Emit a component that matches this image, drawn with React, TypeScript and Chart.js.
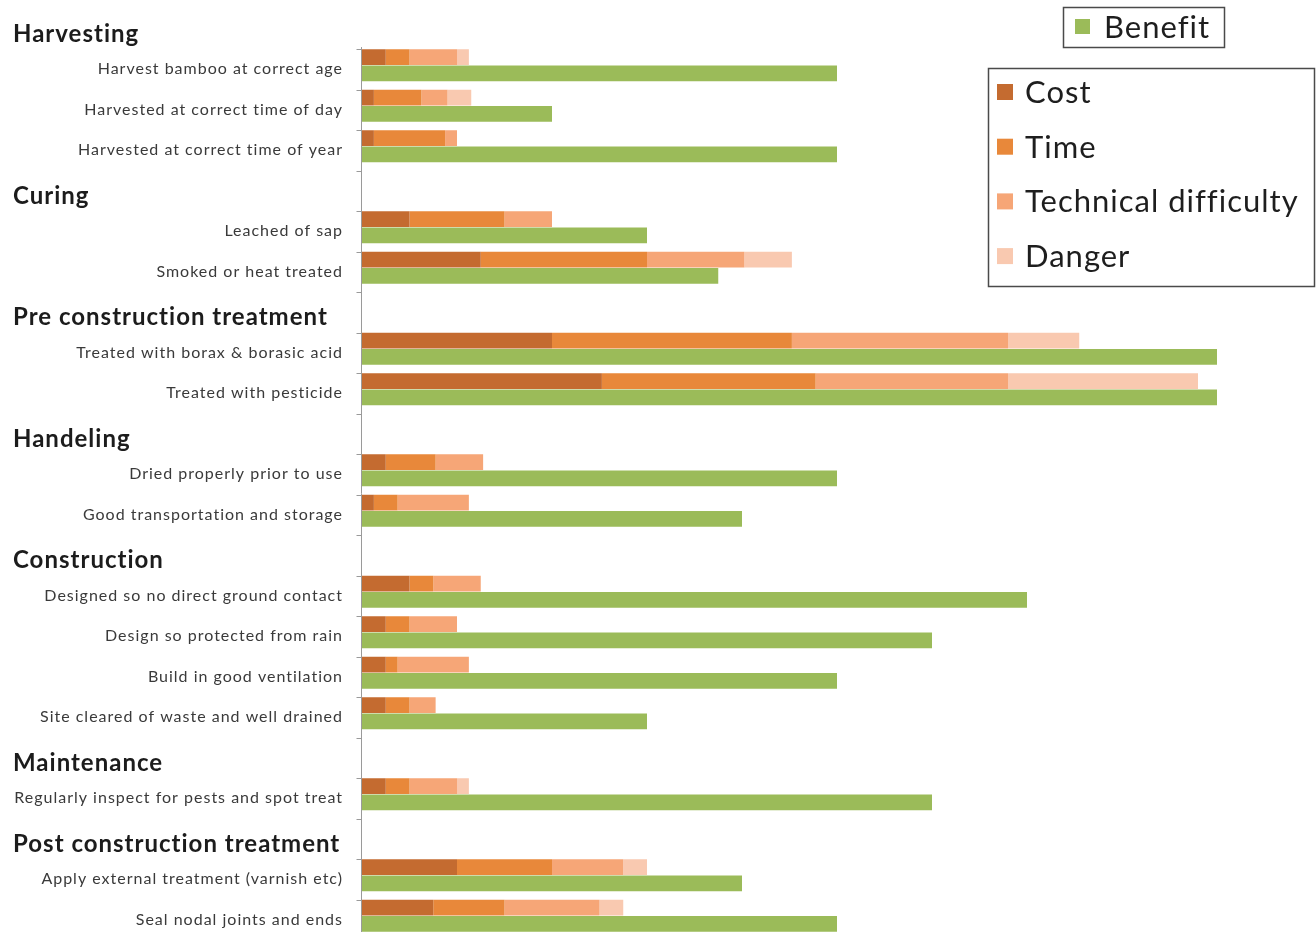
import React, { useEffect, useRef } from "react";
import { Chart, registerables } from "chart.js";

Chart.register(...registerables);

// ---------- data ----------
const categories: string[] = [
  "Harvesting",
  "Harvest bamboo at correct age",
  "Harvested at correct time of day",
  "Harvested at correct time of year",
  "Curing",
  "Leached of sap",
  "Smoked or heat treated",
  "Pre construction treatment",
  "Treated with borax & borasic acid",
  "Treated with pesticide",
  "Handeling",
  "Dried properly prior to use",
  "Good transportation and storage",
  "Construction",
  "Designed so no direct ground contact",
  "Design so protected from rain",
  "Build in good ventilation",
  "Site cleared of waste and well drained",
  "Maintenance",
  "Regularly inspect for pests and spot treat",
  "Post construction treatment",
  "Apply external treatment (varnish etc)",
  "Seal nodal joints and ends",
];

const isHeader: boolean[] = [
  true, false, false, false,
  true, false, false,
  true, false, false,
  true, false, false,
  true, false, false, false, false,
  true, false,
  true, false, false,
];

const cost: (number | null)[] = [null, 1, 0.5, 0.5, null, 2, 5, null, 8, 10.1, null, 1, 0.5, null, 2, 1, 1, 1, null, 1, null, 4, 3];
const time: (number | null)[] = [null, 1, 2, 3, null, 4, 7, null, 10.1, 9, null, 2.1, 1, null, 1, 1, 0.5, 1, null, 1, null, 4, 3];
const technical: (number | null)[] = [null, 2, 1.1, 0.5, null, 2, 4.1, null, 9.1, 8.1, null, 2, 3, null, 2, 2, 3, 1.1, null, 2, null, 3, 4];
const danger: (number | null)[] = [null, 0.5, 1, 0, null, 0, 2, null, 3, 8, null, 0, 0, null, 0, 0, 0, 0, null, 0.5, null, 1, 1];
const benefit: (number | null)[] = [null, 20, 8, 20, null, 12, 15, null, 36, 36, null, 20, 16, null, 28, 24, 20, 12, null, 24, null, 16, 20];

const seriesNames = ["Cost", "Time", "Technical difficulty", "Danger", "Benefit"];
const seriesColors = ["#C46B30", "#E8883A", "#F6A677", "#F9C9B0", "#9BBB59"];

const xMax = 40;

const FONT = "Lato, 'Noto Sans', 'DejaVu Sans', sans-serif";

const labelPlugin = {
  id: "customLabels",
  afterDraw(chart: any) {
    const ctx = chart.ctx as any;
    const y = chart.scales.y;
    const area = chart.chartArea;
    const step = y.getPixelForValue(1) - y.getPixelForValue(0);
    ctx.save();

    // axis line and tick marks
    ctx.strokeStyle = "#9a9a9a";
    ctx.lineWidth = 1;
    const axisX = Math.round(area.left) - 0.5;
    ctx.beginPath();
    ctx.moveTo(axisX, y.getPixelForValue(1) - step * 0.45);
    ctx.lineTo(axisX, chart.height);
    ctx.stroke();
    for (let i = 1; i < categories.length; i++) {
      const ty = Math.round(y.getPixelForValue(i) - step * 0.4) + 0.5;
      ctx.beginPath();
      ctx.moveTo(axisX - 5, ty);
      ctx.lineTo(axisX, ty);
      ctx.stroke();
    }

    // category labels
    ctx.textBaseline = "middle";
    categories.forEach((label, i) => {
      const cy = y.getPixelForValue(i);
      if (isHeader[i]) {
        ctx.font = `bold 24px ${FONT}`;
        ctx.letterSpacing = "1px";
        ctx.fillStyle = "#1c1c1c";
        ctx.textAlign = "left";
        ctx.fillText(label, 13, cy + 9);
      } else {
        ctx.font = `16px ${FONT}`;
        ctx.letterSpacing = "1px";
        ctx.fillStyle = "#3a3a3a";
        ctx.textAlign = "right";
        ctx.fillText(label, area.left - 19, cy + 4);
      }
    });

    // legends
    ctx.font = `31px ${FONT}`;
    ctx.letterSpacing = "1px";
    ctx.textAlign = "left";
    ctx.lineWidth = 1.5;
    ctx.strokeStyle = "#4a4a4a";
    // Benefit box
    ctx.strokeRect(1063.5, 7.5, 161, 40);
    ctx.fillStyle = seriesColors[4];
    ctx.fillRect(1075, 19, 15, 15);
    ctx.fillStyle = "#1e1e1e";
    ctx.fillText(seriesNames[4], 1104, 28);
    // Risk box
    ctx.strokeRect(988.5, 68.5, 326, 218);
    for (let i = 0; i < 4; i++) {
      const ly = 92 + i * 54.7;
      ctx.fillStyle = seriesColors[i];
      ctx.fillRect(997, ly - 8, 16, 16);
      ctx.fillStyle = "#1e1e1e";
      ctx.fillText(seriesNames[i], 1025, ly + 1);
    }
    ctx.restore();
  },
};

export default function App() {
  const ref = useRef<HTMLCanvasElement | null>(null);

  useEffect(() => {
    if (!ref.current) return;
    const series = [cost, time, technical, danger, benefit];
    const chart = new Chart(ref.current, {
      type: "bar",
      data: {
        labels: categories,
        datasets: series.map((d, i) => ({
          label: seriesNames[i],
          data: d,
          backgroundColor: seriesColors[i],
          borderWidth: 0,
          stack: i < 4 ? "risk" : "benefit",
          categoryPercentage: 0.8,
          barPercentage: 0.97,
        })),
      },
      options: {
        indexAxis: "y",
        animation: false,
        responsive: false,
        maintainAspectRatio: false,
        layout: { padding: { top: 4.55, bottom: 3.95, left: 0, right: 4 } },
        plugins: {
          legend: { display: false },
          tooltip: { enabled: false },
          title: { display: false },
        },
        scales: {
          x: { display: false, stacked: true, min: 0, max: xMax },
          y: {
            type: "category",
            stacked: true,
            offset: true,
            grid: { display: false },
            border: { display: false },
            ticks: { display: false },
            afterFit: (scale: any) => {
              scale.width = 362;
            },
          },
        },
      },
      plugins: [labelPlugin],
    });
    return () => chart.destroy();
  }, []);

  return (
    <div
      style={{
        position: "fixed",
        left: 0,
        top: 0,
        width: 1316,
        height: 932,
        overflow: "hidden",
        background: "#ffffff",
      }}
    >
      <canvas ref={ref} width={1316} height={940} style={{ display: "block" }} />
    </div>
  );
}
